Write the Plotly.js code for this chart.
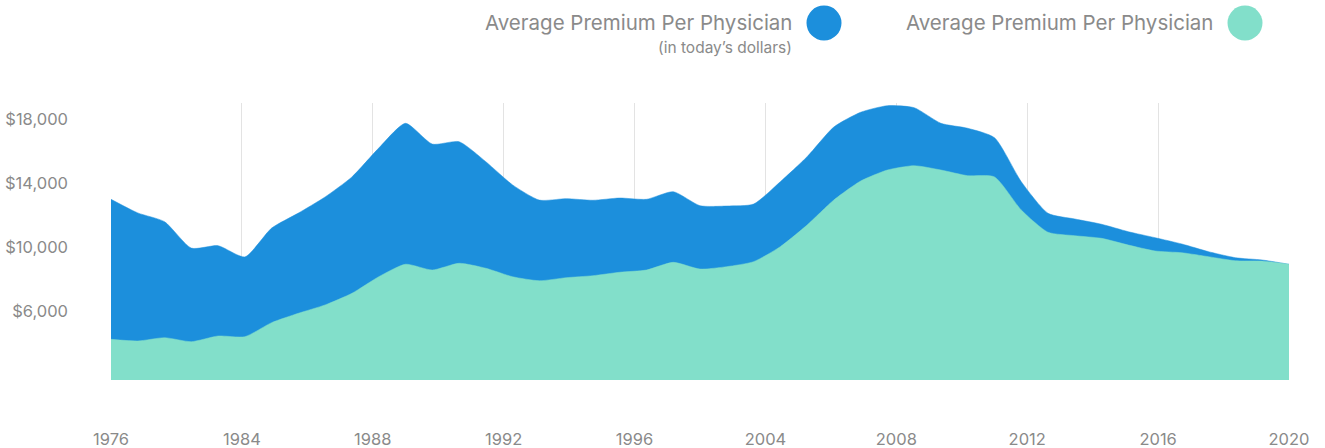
<!DOCTYPE html>
<html>
<head>
<meta charset="utf-8">
<script src="https://cdn.plot.ly/plotly-3.0.1.min.js"></script>
<style>
  html, body { margin: 0; padding: 0; background: #ffffff; }
  #chart { width: 1325px; height: 448px; }
</style>
</head>
<body>
<div id="chart"></div>
<script>
// ---- data ----
const years = [];
for (let y = 1976; y <= 2020; y++) years.push(y);

const premiumTodayDollars = [
  13000, 12150, 11600, 9950, 10100, 9400, 11200, 12140, 13150, 14400,
  16200, 17750, 16450, 16600, 15350, 13900, 12950, 13040, 12940, 13080,
  13000, 13475, 12600, 12580, 12700, 14100, 15660, 17520, 18440, 18850,
  18725, 17750, 17440, 16850, 14100, 12125, 11770, 11440, 10975, 10600,
  10206, 9725, 9350, 9206, 8940
];

const premiumNominal = [
  4250, 4144, 4350, 4100, 4456, 4413, 5290, 5875, 6400, 7125,
  8160, 8940, 8580, 9000, 8690, 8160, 7910, 8100, 8225, 8440,
  8580, 9060, 8640, 8790, 9100, 10040, 11390, 12956, 14140, 14830,
  15100, 14830, 14475, 14400, 12330, 10940, 10725, 10560, 10140, 9770,
  9660, 9410, 9160, 9140, 8940
];

const xTickLabels = ['1976','1984','1988','1992','1996','2004','2008','2012','2016','2020'];
const yTickValues = [6000, 10000, 14000, 18000];
const yTickLabels = ['$6,000','$10,000','$14,000','$18,000'];

const seriesNames = ['Average Premium Per Physician', 'Average Premium Per Physician'];
const seriesSubtitle = '(in today\u2019s dollars)';

// ---- styling ----
const BLUE = '#1c8fdc';
const TEAL = '#82dfca';
const TEXT = '#8a8a8a';
const FONT = 'Inter, Roboto, sans-serif';

const W = 1325, H = 448;
const M = { l: 111, r: 36, t: 103, b: 68 };
const pw = W - M.l - M.r, ph = H - M.t - M.b;
const px = v => (v - M.l) / pw;        // pixel x -> paper
const py = v => (H - M.b - v) / ph;    // pixel y -> paper

const x0 = years[0], x1 = years[years.length - 1];
const tickvals = xTickLabels.map((_, i) => x0 + i * (x1 - x0) / (xTickLabels.length - 1));

const traces = [
  {
    x: years, y: premiumTodayDollars, type: 'scatter', mode: 'lines',
    fill: 'tozeroy', fillcolor: BLUE,
    line: { color: BLUE, width: 0.5, shape: 'spline', smoothing: 0.6 },
    hoverinfo: 'skip', showlegend: false
  },
  {
    x: years, y: premiumNominal, type: 'scatter', mode: 'lines',
    fill: 'tozeroy', fillcolor: TEAL,
    line: { color: TEAL, width: 0.5, shape: 'spline', smoothing: 0.6 },
    hoverinfo: 'skip', showlegend: false
  }
];

const r = 17.5;
const layout = {
  width: W, height: H,
  margin: M,
  paper_bgcolor: '#ffffff', plot_bgcolor: '#ffffff',
  font: { family: FONT, color: TEXT, size: 16.5 },
  showlegend: false,
  xaxis: {
    range: [x0, x1],
    tickmode: 'array', tickvals: tickvals, ticktext: xTickLabels,
    showgrid: true, gridcolor: '#e3e3e3', gridwidth: 1,
    zeroline: false, showline: false, ticks: '',
    ticklabelstandoff: 47,
    tickfont: { family: FONT, color: TEXT, size: 16.5 },
    fixedrange: true
  },
  yaxis: {
    range: [1706, 19019],
    tickmode: 'array', tickvals: yTickValues, ticktext: yTickLabels,
    showgrid: false, zeroline: false, showline: false, ticks: '',
    ticklabelstandoff: 42,
    tickfont: { family: FONT, color: TEXT, size: 16.5 },
    fixedrange: true
  },
  shapes: [
    { type: 'circle', xref: 'paper', yref: 'paper', layer: 'above',
      x0: px(824 - r), x1: px(824 + r), y0: py(23 + r), y1: py(23 - r),
      fillcolor: BLUE, line: { width: 0 } },
    { type: 'circle', xref: 'paper', yref: 'paper', layer: 'above',
      x0: px(1245 - r), x1: px(1245 + r), y0: py(23 + r), y1: py(23 - r),
      fillcolor: TEAL, line: { width: 0 } }
  ],
  annotations: [
    { xref: 'paper', yref: 'paper', x: px(794), y: py(23), xanchor: 'right', yanchor: 'middle',
      text: seriesNames[0], showarrow: false, font: { family: FONT, size: 20.5, color: TEXT } },
    { xref: 'paper', yref: 'paper', x: px(794), y: py(47), xanchor: 'right', yanchor: 'middle',
      text: seriesSubtitle, showarrow: false, font: { family: FONT, size: 15.5, color: TEXT } },
    { xref: 'paper', yref: 'paper', x: px(1215), y: py(23), xanchor: 'right', yanchor: 'middle',
      text: seriesNames[1], showarrow: false, font: { family: FONT, size: 20.5, color: TEXT } }
  ]
};

Plotly.newPlot('chart', traces, layout, { displayModeBar: false, staticPlot: true });
</script>
</body>
</html>
